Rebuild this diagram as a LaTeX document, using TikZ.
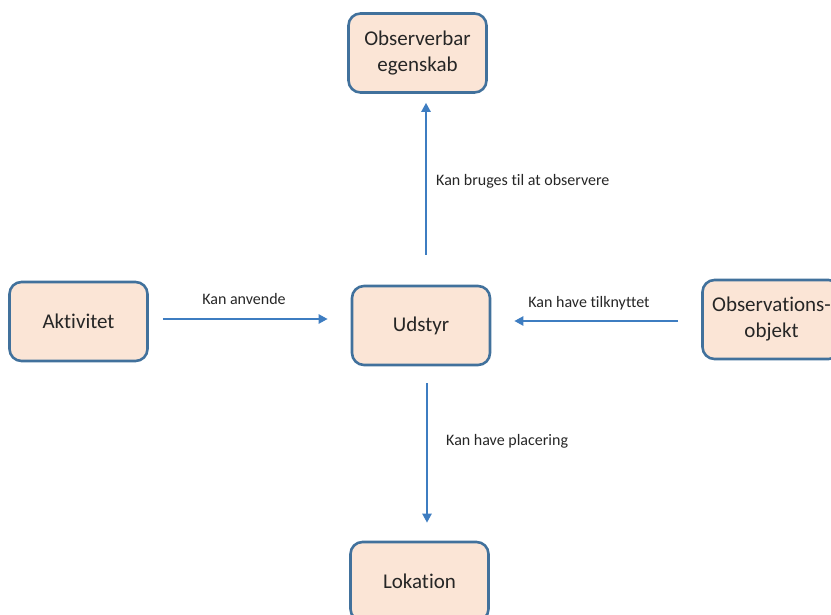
\documentclass[tikz,border=0pt]{standalone}
\usepackage{fontspec}
\setmainfont[Ligatures=NoCommon]{Carlito}
\usetikzlibrary{arrows.meta}
\definecolor{boxfill}{RGB}{251,229,214}
\definecolor{boxline}{RGB}{65,113,156}
\definecolor{arrowblue}{RGB}{62,125,193}
\definecolor{txt}{RGB}{38,38,38}
\begin{document}
\begin{tikzpicture}[x=1pt,y=-1pt,
  entity/.style={draw=boxline, line width=2.6pt, fill=boxfill,
    rounded corners=12pt, minimum width=138pt, minimum height=79pt,
    align=center, inner sep=0pt, text=txt,
    font=\fontsize{21}{26}\selectfont},
  link/.style={draw=arrowblue, line width=2.4pt,
    -{Triangle[length=9pt,width=9pt]}},
  lbl/.style={font=\fontsize{16}{19}\selectfont, text=txt, inner sep=0pt}]
\useasboundingbox (0,0) rectangle (831,615);

% entities
\node[entity] (prop) at (417.5,53)  {Observerbar\\egenskab};
\node[entity] (dev)  at (421,325.5) {Udstyr};
\node[entity] (act)  at (78.5,321.5) {Aktivitet};
\node[entity] (obs)  at (771.5,319.5) {Observations-\\objekt};
\node[entity] (loc)  at (419.5,581.5) {Lokation};

% relations
\draw[link, shorten <=30pt, shorten >=9pt]
  ([xshift=5pt]dev.north) -- ([xshift=5pt]dev.north |- prop.south);
\draw[link, shorten <=17pt, shorten >=18pt]
  ([xshift=6pt]dev.south) -- ([xshift=6pt]dev.south |- loc.north);
\draw[link, shorten <=14pt, shorten >=23pt]
  ([yshift=2.5pt]act.east) -- ([yshift=2.5pt]act.east -| dev.west);
\draw[link, shorten <=23pt, shorten >=23pt]
  ([yshift=-1.5pt]obs.west) -- ([yshift=-1.5pt]obs.west -| dev.east);

% relation labels
\node[lbl, anchor=west] (l1) at (436,181) {Kan bruges til at observere};
\node[lbl] (l2) at (244,299) {Kan anvende};
\node[lbl] (l3) at (589,303) {Kan have tilknyttet};
\node[lbl, anchor=west] (l4) at (446,441) {Kan have placering};
\end{tikzpicture}
\end{document}
